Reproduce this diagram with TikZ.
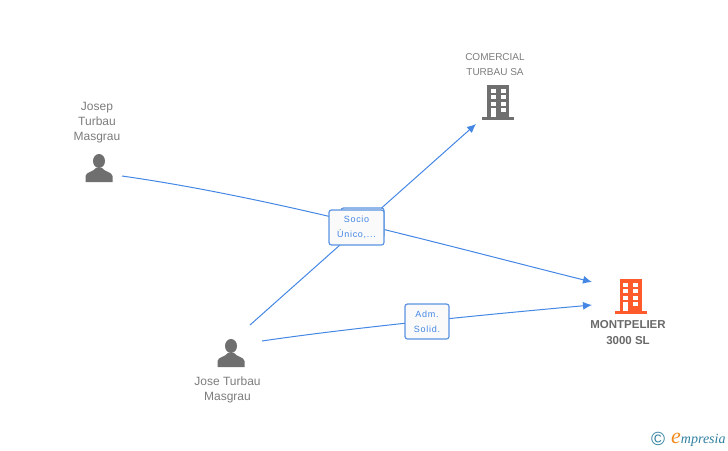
\documentclass[tikz,border=0pt]{standalone}
\usepackage{fontspec}
\setmainfont{Liberation Sans}
\newfontfamily\labelfont[LetterSpace=8]{Liberation Sans}
\newfontfamily\logofont{Liberation Serif}
\usetikzlibrary{arrows.meta, positioning}
\definecolor{linkblue}{HTML}{4487E4}
\definecolor{boxblue}{HTML}{5A93E2}
\definecolor{iconGrey}{HTML}{6F6F6F}
\definecolor{iconOrange}{HTML}{FF5A2C}
\definecolor{textGrey}{HTML}{7C7C7C}
\definecolor{boxfill}{HTML}{FAFAFA}
\definecolor{logoTeal}{HTML}{2F7F9F}
\definecolor{logoOrange}{HTML}{F08A1C}
\tikzstyle{caption} = [text=textGrey, align=center, inner sep=0pt, font=\fontsize{12}{15}\selectfont]
\tikzstyle{smallcaption} = [caption, font=\fontsize{10}{15}\selectfont]
\tikzstyle{maincaption} = [caption, text=textGrey!85!black, font=\fontsize{11.5}{16}\selectfont\bfseries]
\tikzstyle{role} = [rectangle, rounded corners=2.5pt, draw=boxblue, line width=1.2pt, fill=boxfill, text=linkblue, align=center, inner sep=0pt, font=\fontsize{9}{15}\selectfont\labelfont]
\tikzstyle{link} = [linkblue, line width=1pt, -{Latex[length=9pt,width=8pt]}]
\tikzset{
  personicon/.pic={
    \fill[iconGrey] (0,-7) ellipse (6 and 7);
    \fill[iconGrey] (-13.5,14) -- (-13.5,8) .. controls (-13,4) and (-6,4) .. (-3,0) -- (3,0) .. controls (6,4) and (13,4) .. (13.5,8) -- (13.5,14) -- cycle;
  },
  buildingicon/.pic={
    \fill (-11,-17) rectangle (11,16);
    \fill (-16,15) rectangle (16,18);
    \foreach \row in {-13,-6.7,-0.4} {
      \fill[white] (-7.5,\row) rectangle (-2.5,\row+4);
      \fill[white] (2.5,\row) rectangle (7.5,\row+4);
    }
    \fill[white] (2.5,6) rectangle (7.5,10);
    \fill[white] (-7.5,6) rectangle (-2.5,15);
  }
}
\begin{document}
\begin{tikzpicture}[x=1pt,y=-1pt]
  \useasboundingbox (0,0) rectangle (728,450);
  \coordinate (josepout) at (122,176);
  \coordinate (joseup) at (250,325);
  \coordinate (joseout) at (262,341);
  \coordinate (comercialin) at (476,124);
  \coordinate (montupper) at (592,282);
  \coordinate (montlower) at (592,305);
  \draw [link] (joseup) -- (comercialin);
  \draw [link] (josepout) .. controls (270,197) and (440,244) .. (montupper);
  \draw [link] (joseout) .. controls (350,328) and (480,315) .. (montlower);
  % labels on the lines
  \node (socioback) [role, minimum width=43pt, minimum height=30pt] at (362.5,223) {};
  \node (socio) [role, minimum width=55pt, minimum height=35pt] at (356.5,227.5) {Socio\\Único,...};
  \node (adm) [role, minimum width=44pt, minimum height=35pt] at (427,321.5) {Adm.\\Solid.};
  % people
  \pic at (99,168) {personicon};
  \pic at (231,353) {personicon};
  \node (josep) [caption] at (97,122.5) {Josep\\Turbau\\Masgrau};
  \node (jose) [caption] at (227.5,390) {Jose Turbau\\Masgrau};
  % companies
  \pic [iconGrey] at (498,102) {buildingicon};
  \pic [iconOrange] at (630.5,296) {buildingicon};
  \node (comercial) [smallcaption] at (495,64.5) {COMERCIAL\\TURBAU SA};
  \node (montpelier) [maincaption] at (628,332.5) {MONTPELIER\\3000 SL};
  % logo
  \node (copy) [text=logoTeal, inner sep=0pt, font=\fontsize{19}{19}\selectfont] at (658,439) {©};
  \node (logo) [anchor=base west, inner sep=0pt, text=logoTeal, font=\fontsize{14}{14}\selectfont\logofont\itshape] at (671,443.5) {{\color{logoOrange}\fontsize{22}{22}\selectfont e}mpresia};
\end{tikzpicture}
\end{document}
